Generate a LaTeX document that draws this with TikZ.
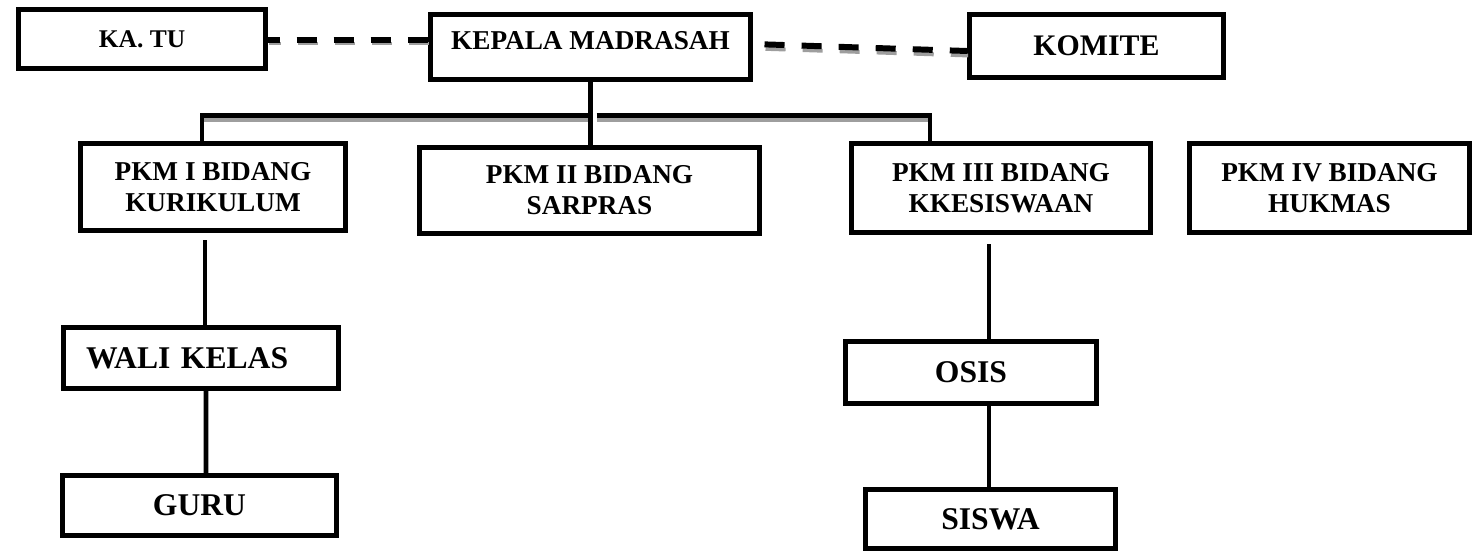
\documentclass[tikz,border=0pt]{standalone}
\usepackage{fontspec}
\setmainfont{Liberation Serif}
\usetikzlibrary{calc}
\definecolor{shadowGray}{HTML}{9e9e9e}

\begin{document}
\begin{tikzpicture}[x=0.02cm, y=-0.02cm,
  box/.style={draw, line width=2.8pt, align=center, inner sep=0pt, font=\bfseries\fontsize{15.5}{17.6}\selectfont},
  big/.style={font=\bfseries\fontsize{18}{21}\selectfont},
  link/.style={line width=2.8pt},
  shade/.style={line width=2.2pt, color=shadowGray},
  dashlink/.style={line width=3.4pt, dash pattern=on 11.4pt off 9.7pt}]
\useasboundingbox (0,0) rectangle (1472,551);
% top row
\node[box, minimum width=4.94cm, minimum height=1.18cm, font=\bfseries\fontsize{14.5}{17}\selectfont] (katu) at (142,39) {KA. TU};
\node[box, minimum width=6.4cm, minimum height=1.3cm, text depth=7pt] (kepala) at (590.5,47) {KEPALA MADRASAH};
\node[box, minimum width=5.08cm, minimum height=1.26cm, font=\bfseries\fontsize{17}{20}\selectfont] (komite) at (1096.5,46) {KOMITE};
% bidang
\node[box, minimum width=5.3cm, minimum height=1.74cm] (pkm1) at (213,187) {PKM I BIDANG\\KURIKULUM};
\node[box, minimum width=6.8cm, minimum height=1.72cm] (pkm2) at (589.5,190.5) {PKM II BIDANG\\SARPRAS};
\node[box, minimum width=5.98cm, minimum height=1.78cm] (pkm3) at (1001,188) {PKM III BIDANG\\KKESISWAAN};
\node[box, minimum width=5.6cm, minimum height=1.78cm] (pkm4) at (1329.5,188) {PKM IV BIDANG\\HUKMAS};
% bawah
\node[box, big, minimum width=5.5cm, minimum height=1.22cm, text width=4.6cm, align=left] (wali) at (201,358) {WALI KELAS};
\node[box, big, minimum width=5.48cm, minimum height=1.2cm] (guru) at (199.5,505.5) {GURU};
\node[box, big, minimum width=5.02cm, minimum height=1.24cm] (osis) at (971,372.5) {OSIS};
\node[box, big, minimum width=5.0cm, minimum height=1.18cm] (siswa) at (990.5,519) {SISWA};
% garis koordinasi
\draw[shade, dash pattern=on 11.4pt off 9.7pt, dash phase=4.8pt] ($(katu.east)+(1,4.5)$) -- ($(katu.east -| kepala.west)+(1,4.5)$);
\draw[dashlink, dash phase=4.8pt] ($(katu.east)+(0,1)$) -- ($(katu.east -| kepala.west)+(0,1)$);
\draw[shade, dash pattern=on 11.4pt off 9.7pt, dash phase=14.5pt] ($(kepala.east)+(1,1.5)$) -- ($(komite.west)+(1,9.5)$);
\draw[dashlink, dash phase=14.5pt] ($(kepala.east)+(0,-3)$) -- ($(komite.west)+(0,5)$);
% garis komando
\coordinate (busL) at (202,115.5);
\coordinate (busM) at (kepala.south |- busL);
\coordinate (busR) at (930,115.5);
\draw[shade] ($(busL)+(2,4.5)$) -- ($(busM)+(-2,4.5)$);
\draw[shade] ($(busM)+(6,4.5)$) -- ($(busR)+(-2,4.5)$);
\draw[link] (busL |- pkm1.north) -- (busL) -- (busM);
\draw[link] ($(busM)+(6,0)$) -- (busR) -- (busR |- pkm3.north);
\draw[link] (kepala.south) -- (kepala.south |- pkm2.north);
\draw[link] ($(pkm1.south)+(-8,7.5)$) -- ($(wali.north)+(4,0)$);
\draw[link] ($(wali.south)+(5,0)$) -- ($(guru.north)+(6.5,0)$);
\draw[link] ($(pkm3.south)+(-12,9.5)$) -- ($(osis.north)+(18,0)$);
\draw[link] ($(osis.south)+(18,0)$) -- ($(siswa.north)+(-1.5,0)$);
\end{tikzpicture}
\end{document}
